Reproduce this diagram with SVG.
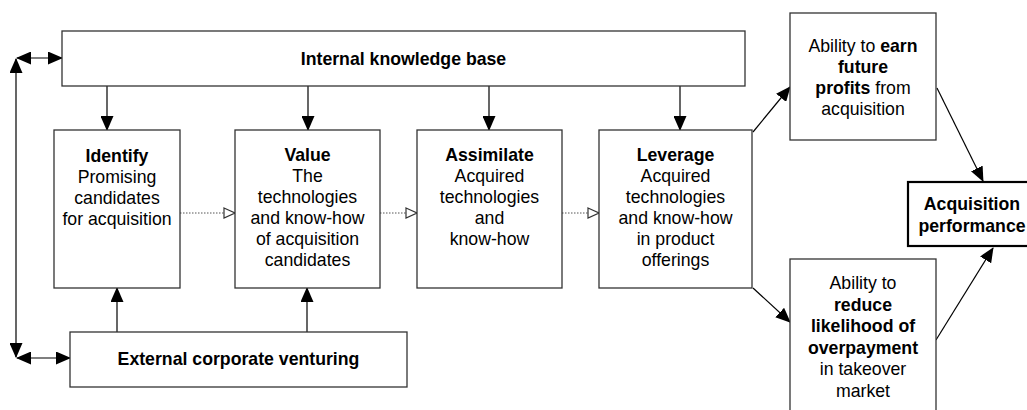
<svg xmlns="http://www.w3.org/2000/svg" width="1027" height="410" viewBox="0 0 1027 410">
<style>
.box{fill:#fff;stroke:#333;stroke-width:1.3}
.bold-box{fill:#fff;stroke:#000;stroke-width:2.2}
text{font-family:"Liberation Sans",Arial,sans-serif;font-size:17.7px;fill:#000;text-anchor:middle}
.b{font-weight:bold}
.line{stroke:#000;stroke-width:1.2;fill:none}
.dot{stroke:#555;stroke-width:1;stroke-dasharray:1.5 1.5;fill:none}
</style>
<defs>
<marker id="ah" markerUnits="userSpaceOnUse" markerWidth="15" markerHeight="13" refX="14" refY="6.5" orient="auto-start-reverse" viewBox="0 0 15 13">
<path d="M0,0 L15,6.5 L0,13 Z" fill="#000"/>
</marker>
<marker id="oh" markerUnits="userSpaceOnUse" markerWidth="13" markerHeight="12" refX="12" refY="6" orient="auto" viewBox="0 0 13 12">
<path d="M1,1 L12,6 L1,11 Z" fill="#fff" stroke="#333" stroke-width="1.2"/>
</marker>
</defs>
<g id="connectors">
<path class="line" d="M16,59 L16,357" marker-start="url(#ah)" marker-end="url(#ah)"/>
<path class="line" d="M17,58 L62,58" marker-start="url(#ah)" marker-end="url(#ah)"/>
<path class="line" d="M17,358 L70,358" marker-start="url(#ah)" marker-end="url(#ah)"/>
<path class="line" d="M107,86 L107,130" marker-end="url(#ah)"/>
<path class="line" d="M308,86 L308,130" marker-end="url(#ah)"/>
<path class="line" d="M489,86 L489,130" marker-end="url(#ah)"/>
<path class="line" d="M680,86 L680,130" marker-end="url(#ah)"/>
<path class="line" d="M117,332 L117,288" marker-end="url(#ah)"/>
<path class="line" d="M307,332 L307,288" marker-end="url(#ah)"/>
<path class="dot" d="M180,213 L235,213" marker-end="url(#oh)"/>
<path class="dot" d="M380,213 L417,213" marker-end="url(#oh)"/>
<path class="dot" d="M562,213 L599,213" marker-end="url(#oh)"/>
<path class="line" d="M753,132 L790,87" marker-end="url(#ah)"/>
<path class="line" d="M753,288 L790,322" marker-end="url(#ah)"/>
<path class="line" d="M937,88 L983,181" marker-end="url(#ah)"/>
<path class="line" d="M936,340 L993,248" marker-end="url(#ah)"/>
</g>
<g id="internal-knowledge-base">
<rect class="box" x="62" y="31" width="683" height="55"/>
<text class="b" x="403.5" y="65">Internal knowledge base</text>
</g>
<g id="identify">
<rect class="box" x="54" y="130" width="126" height="158"/>
<text x="117" y="162"><tspan class="b">Identify</tspan><tspan x="117" dy="21">Promising</tspan><tspan x="117" dy="21">candidates</tspan><tspan x="117" dy="21">for acquisition</tspan></text>
</g>
<g id="value">
<rect class="box" x="235" y="130" width="145" height="158"/>
<text x="307.5" y="161"><tspan class="b">Value</tspan><tspan x="307.5" dy="21">The</tspan><tspan x="307.5" dy="21">technologies</tspan><tspan x="307.5" dy="21">and know-how</tspan><tspan x="307.5" dy="21">of acquisition</tspan><tspan x="307.5" dy="21">candidates</tspan></text>
</g>
<g id="assimilate">
<rect class="box" x="417" y="130" width="145" height="158"/>
<text x="489.5" y="161"><tspan class="b">Assimilate</tspan><tspan x="489.5" dy="21">Acquired</tspan><tspan x="489.5" dy="21">technologies</tspan><tspan x="489.5" dy="21">and</tspan><tspan x="489.5" dy="21">know-how</tspan></text>
</g>
<g id="leverage">
<rect class="box" x="599" y="130" width="153" height="158"/>
<text x="675.5" y="161"><tspan class="b">Leverage</tspan><tspan x="675.5" dy="21">Acquired</tspan><tspan x="675.5" dy="21">technologies</tspan><tspan x="675.5" dy="21">and know-how</tspan><tspan x="675.5" dy="21">in product</tspan><tspan x="675.5" dy="21">offerings</tspan></text>
</g>
<g id="external-corporate-venturing">
<rect class="box" x="70" y="332" width="337" height="55"/>
<text class="b" x="238.5" y="365">External corporate venturing</text>
</g>
<g id="earn-future-profits">
<rect class="box" x="790" y="13" width="146" height="127"/>
<text x="863" y="52">Ability to <tspan class="b">earn</tspan><tspan class="b" x="863" dy="21">future</tspan><tspan x="863" dy="21"><tspan class="b">profits</tspan> from</tspan><tspan x="863" dy="21">acquisition</tspan></text>
</g>
<g id="reduce-overpayment">
<rect class="box" x="790" y="259" width="146" height="160"/>
<text x="863" y="289">Ability to<tspan class="b" x="863" dy="21.5">reduce</tspan><tspan class="b" x="863" dy="21.5">likelihood of</tspan><tspan class="b" x="863" dy="21.5">overpayment</tspan><tspan x="863" dy="21.5">in takeover</tspan><tspan x="863" dy="21.5">market</tspan></text>
</g>
<g id="acquisition-performance">
<rect class="bold-box" x="908" y="182" width="130" height="64"/>
<text class="b" x="972" y="210">Acquisition<tspan x="972" dy="22">performance</tspan></text>
</g>
</svg>
